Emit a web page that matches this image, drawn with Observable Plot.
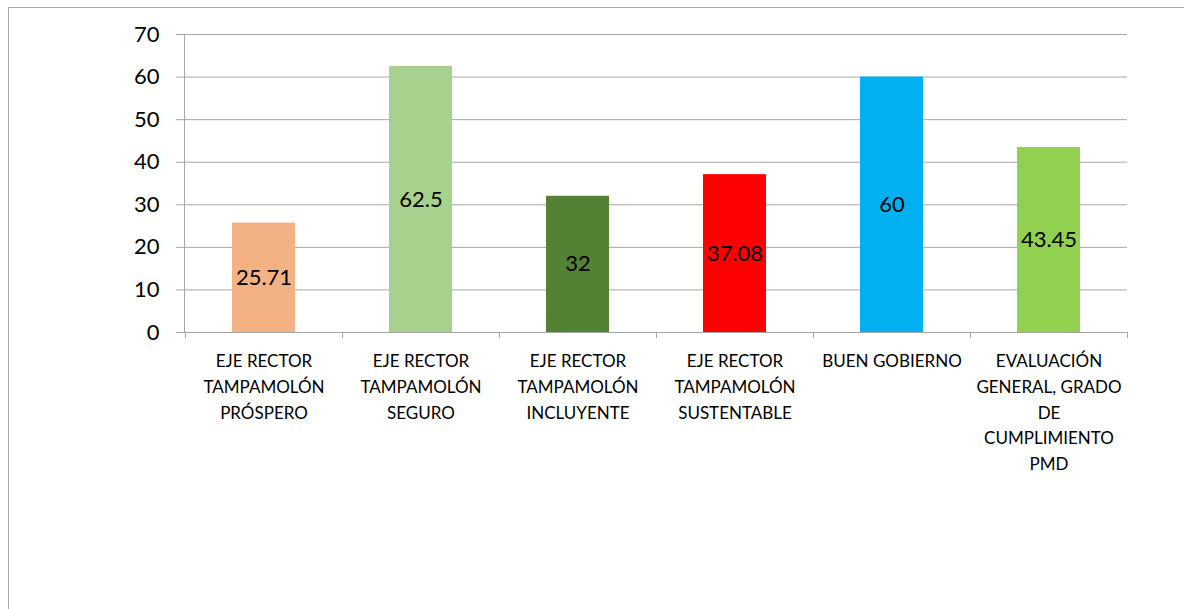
<!DOCTYPE html>
<html><head><meta charset="utf-8">
<script src="https://cdn.jsdelivr.net/npm/d3@7"></script>
<script src="https://cdn.jsdelivr.net/npm/@observablehq/plot@0.6"></script>
<style>
html,body{margin:0;padding:0;background:#fff;}
#wrap{position:relative;width:1184px;height:609px;overflow:hidden;}
#frame{position:absolute;left:8px;top:7px;width:1300px;height:700px;border:1px solid #a6a6a6;box-sizing:border-box;}
#chart{position:absolute;left:0;top:0;}
</style></head><body>
<div id="wrap"><div id="frame"></div><div id="chart"></div></div>
<script>
const categories = [
  "EJE RECTOR\nTAMPAMOLÓN\nPRÓSPERO",
  "EJE RECTOR\nTAMPAMOLÓN\nSEGURO",
  "EJE RECTOR\nTAMPAMOLÓN\nINCLUYENTE",
  "EJE RECTOR\nTAMPAMOLÓN\nSUSTENTABLE",
  "BUEN GOBIERNO",
  "EVALUACIÓN\nGENERAL, GRADO\nDE\nCUMPLIMIENTO\nPMD"
];
const values = [25.71, 62.5, 32, 37.08, 60, 43.45];
const valueLabels = ["25.71", "62.5", "32", "37.08", "60", "43.45"];
const colors = ["#F4B183", "#A9D18E", "#548235", "#FF0000", "#00B0F0", "#92D050"];
const yTicks = [0, 10, 20, 30, 40, 50, 60, 70];

const data = categories.map((c, i) => ({cat: c, value: values[i], label: valueLabels[i]}));
const gray = "#a6a6a6";

function boundaryTicks(index, scales, vals, dimensions) {
  const x = scales.x, y = scales.y;
  const step = x(categories[1]) - x(categories[0]);
  const bw = typeof x.bandwidth === "function" ? x.bandwidth() : (x.bandwidth != null ? x.bandwidth : step * 0.4);
  const c0 = x(categories[0]) + bw / 2;
  const y0 = y(0);
  const g = d3.create("svg:g").attr("stroke", gray).attr("stroke-width", 1);
  for (let i = 0; i <= categories.length; i++) {
    const xx = Math.round(c0 - step / 2 + i * step) + 0.5;
    g.append("line").attr("x1", xx).attr("x2", xx).attr("y1", y0).attr("y2", y0 + 6);
  }
  return g.node();
}

const plot = Plot.plot({
  width: 1184, height: 609,
  marginLeft: 184, marginRight: 57, marginTop: 34, marginBottom: 277,
  style: {fontFamily: "Lato, sans-serif", background: "transparent", color: "#000"},
  x: {domain: categories, paddingInner: 0.6, paddingOuter: 0.3, label: null},
  y: {domain: [0, 70], label: null},
  color: {domain: categories, range: colors},
  marks: [
    Plot.gridY(yTicks, {stroke: gray, strokeOpacity: 1, strokeWidth: 1}),
    Plot.axisY(yTicks, {tickSize: 8, tickPadding: 17, fontSize: 22, stroke: gray, strokeOpacity: 1, fill: "#000", label: null}),
    Plot.frame({anchor: "left", stroke: gray, strokeOpacity: 1}),
    Plot.barY(data, {x: "cat", y: "value", fill: "cat"}),
    Plot.ruleY([0], {stroke: gray, strokeOpacity: 1}),
    Plot.text(data, {x: "cat", y: d => d.value / 2, text: "label", fontSize: 22, fill: "#000"}),
    Plot.axisX({tickSize: 0, tickPadding: 16, fontSize: 17, lineHeight: 1.52, fill: "#000", label: null}),
    boundaryTicks
  ]
});
document.getElementById("chart").appendChild(plot);
</script>
</body></html>
